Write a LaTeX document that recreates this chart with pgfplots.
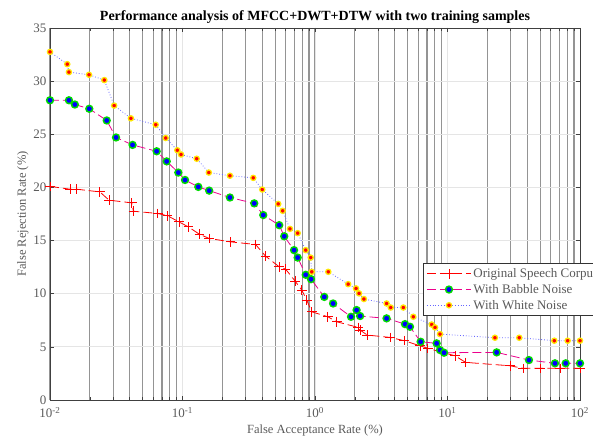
\documentclass[border=0pt]{standalone}
\usepackage{pgfplots}
\pgfplotsset{compat=1.18}
\usepackage{fontspec}
\setmainfont{Liberation Serif}
\definecolor{tickgray}{RGB}{90,90,90}
\pgfplotsset{longlegend/.style={legend image code/.code={\draw[mark repeat=2,mark phase=2,##1] plot coordinates {(0pt,0pt)(22pt,0pt)(44pt,0pt)};}}}
\begin{document}
\begin{tikzpicture}
\begin{axis}[
  scale only axis,
  width=530pt, height=372pt,
  xmode=log,
  xmin=0.01, xmax=100, ymin=0, ymax=35,
  xtick={0.01,0.1,1,10,100},
  xticklabels={10\textsuperscript{-2},10\textsuperscript{-1},10\textsuperscript{0},10\textsuperscript{1},10\textsuperscript{2}},
  ytick={0,5,10,15,20,25,30,35},
  /pgf/number format/assume math mode=true,
  tick label style={font=\fontsize{13}{15}\selectfont, text=tickgray},
  xticklabel style={yshift=-4pt},
  label style={font=\fontsize{12.5}{15}\selectfont, text=tickgray},
  title style={font=\fontsize{14}{16}\selectfont\bfseries, yshift=-5pt},
  title={Performance analysis of MFCC+DWT+DTW with two training samples},
  xlabel={False Acceptance Rate (\%)},
  ylabel={False Rejection Rate (\%)},
  xlabel style={yshift=0pt},
  ylabel style={yshift=-2pt},
  axis line style={draw=black!75, line width=0.9pt},
  tick style={draw=black!75, line width=0.6pt},
  tick align=inside,
  xmajorgrids, xminorgrids, ymajorgrids,
  major grid style={draw=black!10, line width=0.8pt},
  minor grid style={draw=black!42, line width=1.2pt},
  legend style={at={(0.704,0.368)}, anchor=north west, overlay,
    draw=black!80, line width=0.9pt, fill=white,
    font=\fontsize{13}{16}\selectfont, text=tickgray,
    row sep=1.2pt, inner sep=3pt},
  legend cell align=left,
]
\coordinate (SW) at (rel axis cs:0,0);
\addplot[red, line width=0.8pt, dash pattern=on 9pt off 4pt,
  mark=+, mark size=4.8pt, mark options={solid, line width=0.8pt}, longlegend] coordinates {
(0.01,20.1)(0.0142,19.83)(0.0159,19.83)(0.0238,19.58)(0.0279,18.8)(0.0414,18.55)(0.0426,17.76)(0.065,17.55)(0.0773,17.33)(0.094,16.76)(0.1107,16.29)(0.134,15.6)(0.159,15.2)(0.23,14.88)(0.356,14.63)(0.424,13.53)(0.537,12.53)(0.60,12.31)(0.707,11.2)(0.795,10.34)(0.866,9.4)(0.945,8.3)(1.25,7.83)(1.46,7.36)(2.12,6.83)(2.19,6.58)(2.48,6.11)(3.68,5.89)(4.72,5.58)(6.2,5.1)(7.1,4.86)(11.4,4.16)(13.7,3.54)(29.6,3.22)(37.3,2.98)(49.9,2.98)(70.6,2.98)(100,2.98)
};
\addlegendentry{Original Speech Corpus}
\addplot[magenta, line width=0.8pt, dash pattern=on 9pt off 4pt,
  mark=*, mark size=3.4pt, mark options={solid, fill=blue, draw=green!85!black, line width=1.5pt}, longlegend] coordinates {
(0.01,28.2)(0.0139,28.2)(0.0154,27.8)(0.0198,27.4)(0.0268,26.3)(0.0315,24.7)(0.042,24.0)(0.0638,23.4)(0.076,22.45)(0.093,21.4)(0.1045,20.7)(0.1316,20.05)(0.159,19.7)(0.228,19.05)(0.348,18.5)(0.407,17.4)(0.537,16.45)(0.586,15.4)(0.695,14.1)(0.74,13.4)(0.851,11.78)(0.933,11.37)(1.175,9.7)(1.37,9.08)(1.87,7.83)(2.06,8.46)(2.19,7.9)(3.47,7.68)(4.78,7.14)(5.21,6.89)(6.27,5.48)(8.28,5.33)(8.78,4.7)(9.42,4.45)(23.5,4.48)(41.2,3.76)(64.7,3.45)(78,3.45)(100,3.45)
};
\addlegendentry{With Babble Noise}
\addplot[blue!60, line width=0.8pt, dotted,
  mark=*, mark size=2.6pt, mark options={solid, fill=red, draw=yellow!90!orange, line width=1.3pt}, longlegend] coordinates {
(0.01,32.75)(0.0135,31.6)(0.0139,30.85)(0.0197,30.6)(0.0257,30.1)(0.0305,27.7)(0.0408,26.5)(0.0628,25.9)(0.0747,24.65)(0.0914,23.5)(0.0975,23.1)(0.128,22.7)(0.158,21.4)(0.228,21.1)(0.342,20.9)(0.400,19.8)(0.528,18.45)(0.570,17.8)(0.647,16.1)(0.74,15.7)(0.851,14.1)(0.928,13.4)(0.945,12.06)(1.26,12.06)(1.78,10.9)(2.04,10.5)(2.15,10.03)(2.34,9.5)(3.47,9.08)(3.73,8.7)(4.64,8.7)(5.52,7.83)(7.6,7.1)(8.05,6.83)(8.78,6.2)(22.8,5.86)(34.8,5.86)(64,5.58)(80.7,5.58)(100,5.58)
};
\addlegendentry{With White Noise}
\end{axis}
\pgfresetboundingbox
\path[use as bounding box] ([xshift=-50pt,yshift=-36pt]SW) rectangle ++(593pt,436pt);
\end{tikzpicture}
\end{document}
